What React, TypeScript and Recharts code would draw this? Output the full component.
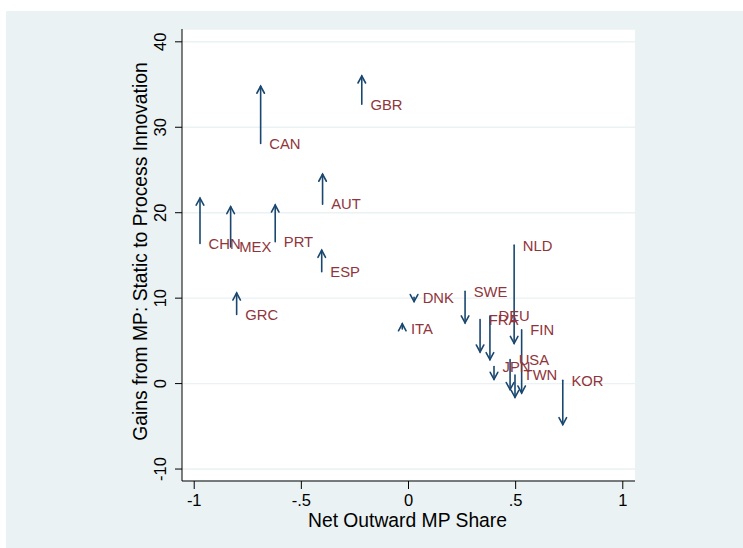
import {
  ComposedChart,
  Scatter,
  XAxis,
  YAxis,
  CartesianGrid,
  ReferenceLine,
  Label,
} from 'recharts'

// one arrow per country: tail = static gains, head = process-innovation gains
const countries = ['GBR', 'CAN', 'AUT', 'CHN', 'MEX', 'PRT', 'ESP', 'GRC', 'DNK', 'ITA', 'SWE', 'FRA', 'DEU', 'NLD', 'FIN', 'USA', 'JPN', 'TWN', 'KOR']
const netOutwardShare = [-0.218, -0.69, -0.401, -0.973, -0.83, -0.622, -0.405, -0.802, 0.026, -0.029, 0.264, 0.334, 0.38, 0.493, 0.528, 0.474, 0.399, 0.497, 0.72]
const gainsStatic = [32.7, 28.1, 21.0, 16.4, 16.0, 16.6, 13.1, 8.1, 10.1, 6.4, 10.8, 7.5, 7.9, 16.2, 6.3, 2.8, 2.0, 1.0, 0.4]
const gainsProcess = [36.0, 34.8, 24.5, 21.7, 20.7, 20.9, 15.6, 10.6, 9.6, 7.0, 7.1, 3.7, 2.8, 4.7, -1.1, -0.7, 0.5, -1.6, -4.8]

const xTicks = [-1, -0.5, 0, 0.5, 1]
const yTicks = [-10, 0, 10, 20, 30, 40]

const NAVY = '#1a476f'
const MAROON = '#90353b'
const BG = '#eaf2f3'
const FONT = '"Liberation Sans", Arial, Helvetica, sans-serif'

const tails = countries.map((name, i) => ({ name, x: netOutwardShare[i], y: gainsStatic[i] }))

const fmtX = (v: number) => (v === 0 ? '0' : String(v).replace('0.', '.'))

const Arrow = (p: any) => {
  const { x1, y1, x2, y2 } = p
  const dir = y2 < y1 ? -1 : 1
  const back = 7
  const half = 3.8
  return (
    <g stroke={NAVY} strokeWidth={1.6} fill="none" strokeLinecap="round">
      <line x1={x1} y1={y1} x2={x2} y2={y2} />
      <polyline points={`${x2 - half},${y2 - dir * back} ${x2},${y2} ${x2 + half},${y2 - dir * back}`} />
    </g>
  )
}

const CountryLabel = (p: any) => (
  <text x={p.cx + 8.6} y={p.cy} dy="0.36em" fontSize={14.8} fontFamily={FONT} fill={MAROON}>
    {p.payload.name}
  </text>
)

const YTick = ({ x, y, payload }: any) => (
  <text x={x} y={y} transform={`rotate(-90 ${x} ${y})`} textAnchor="middle" fontSize={16.5} fontFamily={FONT} fill="#000">
    {payload.value}
  </text>
)

const XTick = ({ x, y, payload }: any) => (
  <text x={x} y={y} dy="0.71em" textAnchor="middle" fontSize={16.5} fontFamily={FONT} fill="#000">
    {fmtX(payload.value)}
  </text>
)

export default function App() {
  return (
    <div style={{ position: 'absolute', left: 0, top: 0, width: 743, height: 548, background: '#fff' }}>
      <div style={{ position: 'absolute', left: 6, top: 11, width: 737, height: 537, background: BG }} />
      <div style={{ position: 'absolute', left: 0, top: 0 }}>
        <ComposedChart width={743} height={548} margin={{ top: 29, right: 108, bottom: 0, left: 0 }}>
          <CartesianGrid vertical={false} stroke={BG} strokeWidth={1.4} fill="#fff" />
          <XAxis
            type="number"
            dataKey="x"
            domain={[-1.057, 1.057]}
            ticks={xTicks}
            height={67}
            stroke="#000"
            tickSize={8}
            tickMargin={5}
            tick={<XTick />}
            allowDataOverflow
          >
            <Label
              content={({ viewBox }: any) => (
                <text x={viewBox.x + viewBox.width / 2 - 1} y={viewBox.y + 46} textAnchor="middle" fontSize={19.3} fontFamily={FONT} fill="#000">
                  Net Outward MP Share
                </text>
              )}
            />
          </XAxis>
          <YAxis
            type="number"
            dataKey="y"
            domain={[-11.4, 41.5]}
            ticks={yTicks}
            width={182}
            stroke="#000"
            tickSize={7}
            tickMargin={9}
            tick={<YTick />}
            allowDataOverflow
          >
            <Label
              content={({ viewBox }: any) => {
                const cx = 147
                const cy = viewBox.y + viewBox.height / 2 - 3.5
                return (
                  <text x={cx} y={cy} transform={`rotate(-90 ${cx} ${cy})`} textAnchor="middle" fontSize={19.3} fontFamily={FONT} fill="#000">
                    Gains from MP: Static to Process Innovation
                  </text>
                )
              }}
            />
          </YAxis>
          {countries.map((c, i) => (
            <ReferenceLine
              key={c}
              segment={[
                { x: netOutwardShare[i], y: gainsStatic[i] },
                { x: netOutwardShare[i], y: gainsProcess[i] },
              ]}
              shape={<Arrow />}
              ifOverflow="visible"
            />
          ))}
          <Scatter data={tails} shape={<CountryLabel />} isAnimationActive={false} />
        </ComposedChart>
      </div>
    </div>
  )
}
